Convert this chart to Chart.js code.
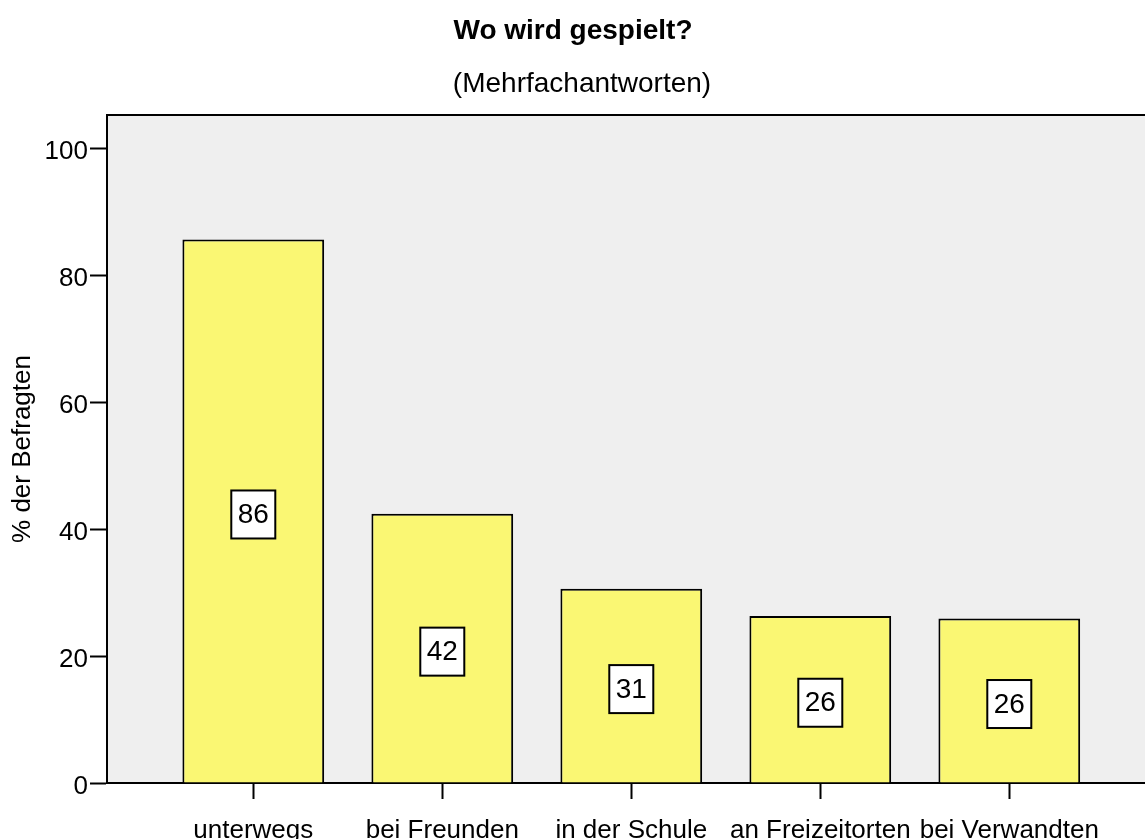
<!DOCTYPE html>
<html>
<head>
<meta charset="utf-8">
<script src="https://cdn.jsdelivr.net/npm/chart.js@4.4.0/dist/chart.umd.min.js"></script>
<style>
  html, body { margin: 0; padding: 0; background: #ffffff; }
  #wrap { width: 1145px; height: 839px; }
</style>
</head>
<body>
<div id="wrap"><canvas id="c" width="1145" height="839"></canvas></div>
<script>
const chartTitle = 'Wo wird gespielt?';
const chartSubtitle = '(Mehrfachantworten)';
const yAxisTitle = '% der Befragten';
const categories = ['unterwegs', 'bei Freunden', 'in der Schule', 'an Freizeitorten', 'bei Verwandten'];
const values = [85.6, 42.4, 30.6, 26.3, 25.9];
const yTicks = [0, 20, 40, 60, 80, 100];

const FONT = '"Liberation Sans", Arial, Helvetica, sans-serif';

const plotDecor = {
  id: 'plotDecor',
  beforeDraw(chart) {
    const { ctx, chartArea: a } = chart;
    ctx.save();
    ctx.fillStyle = '#efefef';
    ctx.fillRect(a.left, a.top, a.right - a.left, a.bottom - a.top);
    ctx.strokeStyle = '#000';
    ctx.lineWidth = 2;
    ctx.beginPath();
    ctx.moveTo(a.left, a.top);
    ctx.lineTo(a.right, a.top);
    ctx.stroke();
    ctx.restore();
  },
  afterDatasetsDraw(chart) {
    const { ctx } = chart;
    const meta = chart.getDatasetMeta(0);
    ctx.save();
    ctx.font = '28px ' + FONT;
    ctx.textAlign = 'center';
    ctx.textBaseline = 'middle';
    meta.data.forEach((bar, i) => {
      const cx = bar.x;
      const cy = (bar.y + bar.base) / 2 + 3.5;
      const w = 44, h = 48;
      ctx.fillStyle = '#fff';
      ctx.fillRect(cx - w / 2, cy - h / 2, w, h);
      ctx.strokeStyle = '#000';
      ctx.lineWidth = 2;
      ctx.strokeRect(cx - w / 2, cy - h / 2, w, h);
      ctx.fillStyle = '#000';
      ctx.fillText(String(Math.round(values[i])), cx, cy + 1);
    });
    ctx.restore();
  },
  afterDraw(chart) {
    const { ctx } = chart;
    ctx.save();
    ctx.fillStyle = '#000';
    ctx.textAlign = 'center';
    ctx.textBaseline = 'alphabetic';
    ctx.font = 'bold 28px ' + FONT;
    ctx.fillText(chartTitle, 573, 39);
    ctx.font = '28px ' + FONT;
    ctx.fillText(chartSubtitle, 582, 92);
    ctx.restore();
  }
};

new Chart(document.getElementById('c'), {
  type: 'bar',
  data: {
    datasets: [{
      data: categories.map((c, i) => ({ x: i + 1, y: values[i] })),
      backgroundColor: '#faf773',
      borderColor: '#000',
      borderWidth: 2,
      barPercentage: 0.75,
      categoryPercentage: 1.0
    }]
  },
  options: {
    responsive: false,
    animation: false,
    devicePixelRatio: 1,
    layout: { padding: { top: 115, left: 0, right: 0, bottom: 0 } },
    plugins: {
      legend: { display: false },
      title: { display: false },
      tooltip: { enabled: false }
    },
    scales: {
      x: {
        type: 'linear',
        offset: false,
        min: 0.226,
        max: 5.718,
        afterBuildTicks: s => { s.ticks = categories.map((_, i) => ({ value: i + 1 })); },
        afterFit: s => { s.height = 56; },
        grid: { offset: false, drawOnChartArea: false, drawTicks: true, tickLength: 16, tickColor: '#000', tickWidth: 2 },
        border: { display: true, color: '#000', width: 2 },
        ticks: {
          callback: v => categories[v - 1],
          font: { family: FONT, size: 26 },
          color: '#000',
          padding: 16,
          maxRotation: 0,
          autoSkip: false
        }
      },
      y: {
        min: 0,
        max: 105.2,
        afterBuildTicks: s => { s.ticks = yTicks.map(v => ({ value: v })); },
        afterFit: s => { s.width = 107; },
        grid: { drawOnChartArea: false, drawTicks: true, tickLength: 17, tickColor: '#000', tickWidth: 2 },
        border: { display: true, color: '#000', width: 2 },
        ticks: {
          font: { family: FONT, size: 26 },
          color: '#000',
          padding: 2,
          labelOffset: 4
        },
        title: {
          display: true,
          text: yAxisTitle,
          font: { family: FONT, size: 26 },
          color: '#000',
          padding: { top: 7, bottom: 0 }
        }
      }
    }
  },
  plugins: [plotDecor]
});
</script>
</body>
</html>
